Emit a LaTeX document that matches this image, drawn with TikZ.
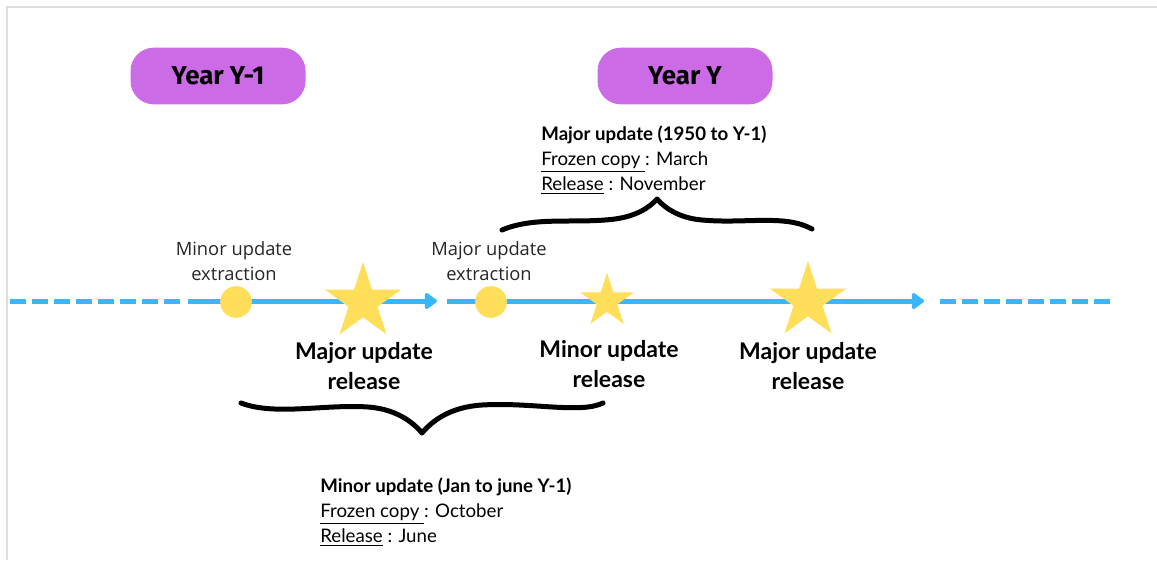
\documentclass[tikz,border=0pt]{standalone}
\usepackage{fontspec}
\setmainfont{Lato}
\newfontfamily\yearfont{Fira Sans}
\newfontfamily\labelfont{Open Sans}
\usetikzlibrary{shapes.geometric,arrows.meta}

\definecolor{lineblue}{HTML}{38B6FF}
\definecolor{dotyellow}{HTML}{FFDE59}
\definecolor{pillpurple}{HTML}{CB6CE6}
\definecolor{framegray}{HTML}{DDDDDD}

\tikzset{
  year/.style={rounded corners=14pt,fill=pillpurple,minimum width=105pt,minimum height=34pt,
    font=\yearfont\bfseries\fontsize{15.5}{18}\selectfont},
  dot/.style={circle,fill=dotyellow,minimum size=19pt,inner sep=0pt},
  bigstar/.style={star,star points=5,star point ratio=2.618,fill=dotyellow,inner sep=0pt,minimum size=48pt},
  smallstar/.style={bigstar,minimum size=34pt},
  small/.style={align=center,text=black!85,font=\labelfont\fontsize{11}{15}\selectfont},
  big/.style={align=center,font=\bfseries\fontsize{13.8}{18}\selectfont},
  info/.style={align=left,anchor=west,inner sep=0pt,font=\fontsize{11.2}{15}\selectfont},
  timeline/.style={lineblue,line width=3pt},
  gapline/.style={timeline,dash pattern=on 9.6pt off 3.6pt},
  brace/.style={line width=3pt,line cap=round,line join=round}
}

\begin{document}
\begin{tikzpicture}[x=0.6pt,y=-0.6pt,>={Triangle[round,length=8pt,width=11pt]}]
\useasboundingbox (0,0) rectangle (1157,560);
\draw[framegray,line width=1.2pt] (7,560) -- (7,7) -- (1157,7);

\node[year] (yprev) at (218,76) {Year Y-1};
\node[year] (ycur) at (685,76) {Year Y};

% timeline
\coordinate (d1) at (10,301);
\coordinate (d2) at (181,301);
\coordinate (s1) at (188,301);
\coordinate (e1) at (437,301);
\coordinate (s2) at (447,301);
\coordinate (e2) at (924,301);
\coordinate (d3) at (940,301);
\coordinate (d4) at (1114,301);
\draw[gapline] (d1) -- (d2);
\draw[timeline,->] (s1) -- (e1);
\draw[timeline,->] (s2) -- (e2);
\draw[gapline] (d3) -- (d4);

\node[dot] (minext) at (236,302) {};
\node[dot] (majext) at (491,302) {};
\node[bigstar] (majrel1) at (363,302) {};
\node[smallstar] (minrel) at (607,301) {};
\node[bigstar] (majrel2) at (808,301) {};

\node[small] (minextlab) at (234,261) {Minor update\\extraction};
\node[small] (majextlab) at (489,261) {Major update\\extraction};
\node[big] (majrel1lab) at (364,366) {Major update\\release};
\node[big] (minrellab) at (609,364) {Minor update\\release};
\node[big] (majrel2lab) at (808,366) {Major update\\release};

% braces
\draw[brace] (502,230) .. controls (535,216) and (575,224) .. (615,219)
  .. controls (637,216) and (650,207) .. (657,199)
  .. controls (664,207) and (678,218) .. (702,220)
  .. controls (745,224) and (785,214) .. (812,229);
\draw[brace] (241,403) .. controls (275,416) and (325,404) .. (368,407)
  .. controls (395,409) and (412,421) .. (422,433)
  .. controls (432,421) and (450,407) .. (482,405)
  .. controls (532,402) and (580,414) .. (603,403);

\node[info] (majinfo) at (541,160) {\textbf{Major update (1950 to Y-1)}\\
  \underline{Frozen copy }: March\\
  \underline{Release} : November};
\node[info] (mininfo) at (320,512) {\textbf{Minor update (Jan to june Y-1)}\\
  \underline{Frozen copy }: October\\
  \underline{Release} : June};
\end{tikzpicture}
\end{document}
